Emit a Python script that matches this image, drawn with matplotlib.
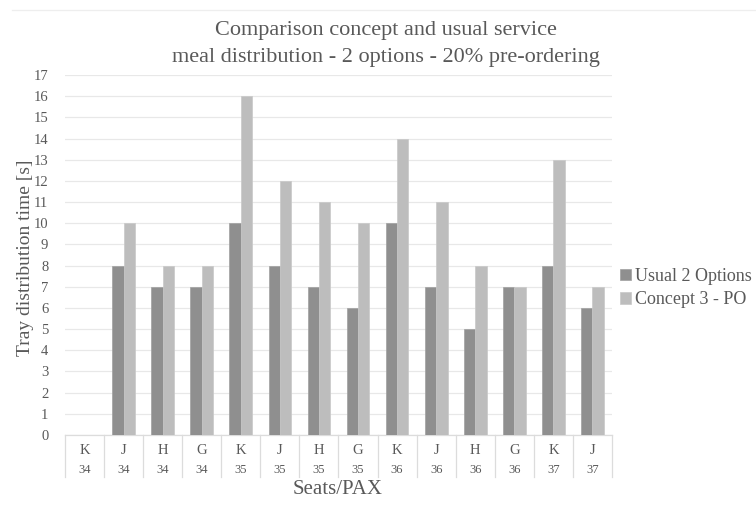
import matplotlib
matplotlib.use("Agg")
import matplotlib.pyplot as plt
import matplotlib.transforms as mtransforms
import numpy as np

seat_letters = ["K", "J", "H", "G", "K", "J", "H", "G", "K", "J", "H", "G", "K", "J"]
seat_rows = ["34", "34", "34", "34", "35", "35", "35", "35", "36", "36", "36", "36", "37", "37"]
usual_2_options = [0, 8, 7, 7, 10, 8, 7, 6, 10, 7, 5, 7, 8, 6]
concept_3_po = [0, 10, 8, 8, 16, 12, 11, 10, 14, 11, 8, 7, 13, 7]
y_ticks = list(range(0, 18))

plt.rcParams["font.family"] = ["Liberation Serif", "DejaVu Serif"]
text_col = "#595959"
dark_col = "#8f8f8f"
light_col = "#bdbdbd"
grid_col = "#e8e8e8"
table_col = "#dcdcdc"

fig = plt.figure(figsize=(7.56, 5.07), dpi=100)
ax = fig.add_axes([65 / 756, 1 - 435 / 507, 547 / 756, 360 / 507])

n = len(seat_letters)
x = np.arange(n)
w = 0.29
ax.bar(x - w / 2, usual_2_options, w, color=dark_col, edgecolor="#a0a0a0",
       linewidth=0.5, label="Usual 2 Options", zorder=3)
ax.bar(x + w / 2, concept_3_po, w, color=light_col, edgecolor="#c8c8c8",
       linewidth=0.5, label="Concept 3 - PO", zorder=3)

ax.set_xlim(-0.5, n - 0.5)
ax.set_ylim(0, 17)
ax.set_yticks(y_ticks)
ax.set_yticklabels([str(v) for v in y_ticks])
ax.tick_params(axis="y", length=0, pad=12, labelsize=10.5, labelcolor=text_col)
ax.set_xticks([])
ax.grid(axis="y", color=grid_col, linewidth=0.9, zorder=0)
for side in ["top", "right", "left"]:
    ax.spines[side].set_visible(False)
ax.spines["bottom"].set_color(table_col)
ax.spines["bottom"].set_linewidth(0.9)

# Two-level category table under the axis
trans = mtransforms.blended_transform_factory(ax.transData, ax.transAxes)
for b in np.arange(-0.5, n, 1.0):
    ax.plot([b, b], [0, -42 / 360], transform=trans, color=table_col,
            linewidth=0.9, clip_on=False)
for i in range(n):
    ax.text(i, -15 / 360, seat_letters[i], transform=trans, ha="center",
            va="center", fontsize=10.5, color=text_col)
    ax.text(i, -35 / 360, seat_rows[i], transform=trans, ha="center",
            va="center", fontsize=9, color=text_col)

fig.text(338 / 756, 1 - 490 / 507, "Seats/PAX", ha="center", va="center",
         fontsize=15, color=text_col)
fig.text(26 / 756, 1 - 258 / 507, "Tray distribution time [s]", ha="center",
         va="center", rotation=90, fontsize=14, color=text_col)
fig.text(386 / 756, 1 - 44 / 507,
         "Comparison concept and usual service\nmeal distribution - 2 options - 20% pre-ordering",
         ha="center", va="center", fontsize=16, color=text_col, linespacing=1.6)

leg = ax.legend(loc="center left", bbox_to_anchor=(0.995, (435 - 288) / 360),
                frameon=False, fontsize=13, handlelength=0.6, handleheight=0.6,
                handletextpad=0.25, labelspacing=0.35, borderaxespad=0.2)
for t in leg.get_texts():
    t.set_color(text_col)

# faint chart-area border along the top
fig.add_artist(plt.Line2D([12 / 756, 1], [1 - 10 / 507, 1 - 10 / 507],
                          transform=fig.transFigure, color="#eeeeee", linewidth=0.9))

fig.savefig("out.png", dpi=100)
